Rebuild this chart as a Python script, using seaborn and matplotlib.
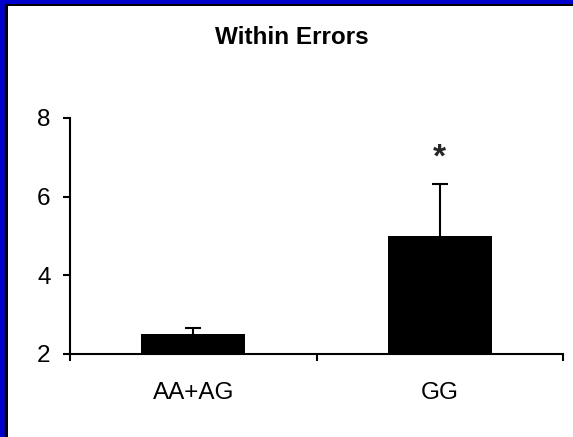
import matplotlib
matplotlib.use("Agg")
import matplotlib.pyplot as plt
from matplotlib.patches import Rectangle
import seaborn as sns
import pandas as pd

# Data
categories = ["AA+AG", "GG"]
means = [2.5, 5.0]
sems = [0.15, 1.32]
title = "Within Errors"
y_ticks = [2, 4, 6, 8]
significance = ["", "*"]

sns.set_theme(style="white")
plt.rcParams['font.family'] = ['Liberation Sans', 'DejaVu Sans']

df = pd.DataFrame({"genotype": categories, "value": means, "err": sems})
df["top"] = df["value"] + df["err"]

W, H = 573, 437
fig = plt.figure(figsize=(W / 100, H / 100), dpi=100)
fig.patch.set_facecolor("white")
ax = fig.add_axes([70 / W, 1 - 354 / H, (563 - 70) / W, (354 - 118) / H])

sns.barplot(data=df, x="genotype", y="value", color="black", width=0.42,
            ax=ax, errorbar=None, saturation=1, edgecolor="black", linewidth=0, zorder=2)

# upward-only error bars with a single cap
xs = list(range(len(categories)))
ax.vlines(xs, df["value"], df["top"], colors="black", linewidth=1.5, zorder=1)
ax.plot(xs, df["top"], linestyle="none", marker="_", markersize=12,
        markeredgewidth=1.5, color="black", zorder=1)

for i, (t, sig) in enumerate(zip(df["top"], significance)):
    if sig:
        ax.annotate(sig, xy=(i, t), xytext=(0, 19), textcoords="offset points",
                    ha="center", va="center", fontsize=24, fontweight="bold")

ax.set_xlim(-0.5, 1.5)
ax.set_ylim(2, 8)
ax.set_yticks(y_ticks)
ax.set_xticks(xs)
ax.set_xticklabels(categories)
ax.set_xticks([-0.5, 0.5, 1.5], minor=True)
ax.set_xlabel("")
ax.set_ylabel("")

for side in ["top", "right"]:
    ax.spines[side].set_visible(False)
for side in ["left", "bottom"]:
    ax.spines[side].set_linewidth(1.5)
    ax.spines[side].set_color("black")

ax.tick_params(axis="y", which="major", direction="out", length=5, width=1.5,
               color="black", labelsize=17.5, pad=9, left=True)
ax.tick_params(axis="x", which="major", length=0, labelsize=17.5, pad=20, bottom=True)
ax.tick_params(axis="x", which="minor", direction="out", length=5, width=1.5,
               color="black", bottom=True)
for lab in ax.get_xticklabels() + ax.get_yticklabels():
    lab.set_color("black")

fig.text(292 / W, 1 - 38 / H, title, ha="center", va="center",
         fontsize=17.5, fontweight="bold", color="black")

# frame (left and top border)
fig.patches.append(Rectangle((0, 0), 5 / W, 1, transform=fig.transFigure,
                             facecolor="#0000CC", edgecolor="none", zorder=10))
fig.patches.append(Rectangle((5 / W, 0), 3 / W, 1 - 4 / H, transform=fig.transFigure,
                             facecolor="black", edgecolor="none", zorder=10))
fig.patches.append(Rectangle((0, 1 - 4 / H), 1, 4 / H, transform=fig.transFigure,
                             facecolor="#0000CC", edgecolor="none", zorder=10))
fig.patches.append(Rectangle((5 / W, 1 - 6 / H), 1, 2 / H, transform=fig.transFigure,
                             facecolor="black", edgecolor="none", zorder=10))

fig.savefig("out.png", dpi=100, facecolor="white")
